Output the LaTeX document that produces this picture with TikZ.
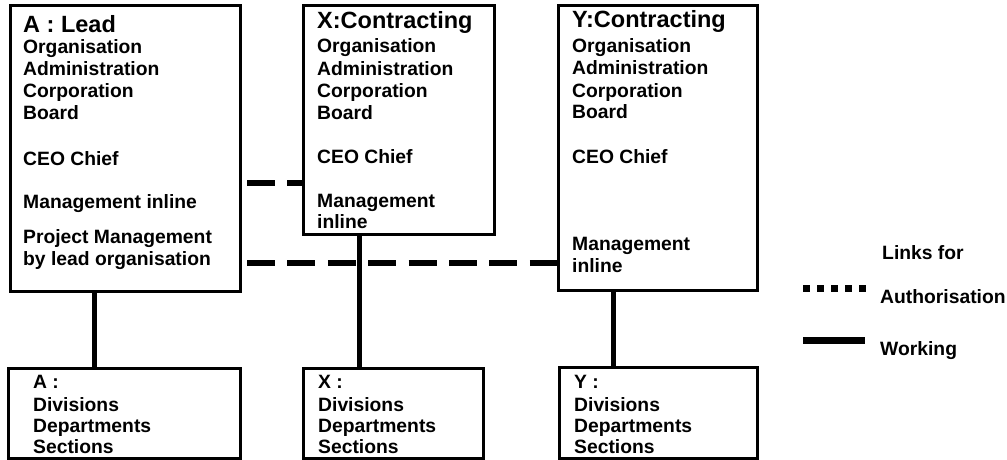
\documentclass[tikz,border=0pt]{standalone}
\usepackage{fontspec}
\setmainfont{Liberation Sans}
\begin{document}
\begin{tikzpicture}[x=1pt,y=-1pt,
  box/.style={draw, line width=3pt, outer sep=0pt, inner sep=0pt, anchor=north west},
  txt/.style={anchor=base west, inner sep=0pt, font=\fontsize{19.3}{22}\selectfont\bfseries},
  ttl/.style={anchor=base west, inner sep=0pt, font=\fontsize{23.5}{26}\selectfont\bfseries},
  work/.style={line width=5pt},
  auth/.style={line width=6pt, dash pattern=on 28pt off 12.4pt, dash phase=33.4pt},
  legauth/.style={line width=7pt, dash pattern=on 7pt off 7pt},
  legwork/.style={line width=7pt}]
\useasboundingbox (0,0) rectangle (1007,459);
% main boxes
\node[box, minimum width=230pt, minimum height=286pt] (A) at (10,5) {};
\node[box, minimum width=191pt, minimum height=229pt] (X) at (303,5) {};
\node[box, minimum width=199pt, minimum height=285pt] (Y) at (558,5) {};
% sub boxes
\node[box, minimum width=232pt, minimum height=90pt] (As) at (8,368) {};
\node[box, minimum width=180pt, minimum height=90pt] (Xs) at (303,368) {};
\node[box, minimum width=198pt, minimum height=91pt] (Ys) at (559,367) {};
% texts of A
\node[ttl] (at) at (23,32) {A : Lead};
\foreach \t/\y [count=\i] in {Organisation/53, Administration/75, Corporation/97, Board/119, CEO Chief/165, Management inline/208, Project Management/243, by lead organisation/265}
  \node[txt] (a\i) at (23,\y) {\t};
% texts of X
\node[ttl] (xt) at (317,28) {X:Contracting};
\foreach \t/\y [count=\i] in {Organisation/52, Administration/75, Corporation/97, Board/119, CEO Chief/163, Management/207, inline/228}
  \node[txt] (x\i) at (317,\y) {\t};
% texts of Y
\node[ttl] (yt) at (572,27) {Y:Contracting};
\foreach \t/\y [count=\i] in {Organisation/52, Administration/74, Corporation/97, Board/118, CEO Chief/163, Management/250, inline/272}
  \node[txt] (y\i) at (572,\y) {\t};
% sub box texts
\foreach \n/\x/\l in {as/33/A, xs/318/X, ys/574/Y}{
  \node[txt] (\n1) at (\x,388) {\l\ :};
  \node[txt] (\n2) at (\x,411) {Divisions};
  \node[txt] (\n3) at (\x,432) {Departments};
  \node[txt] (\n4) at (\x,453) {Sections};
}
% working links
\draw[work] (94,0 |- A.south) -- (94,0 |- As.north);
\draw[work] (359,0 |- X.south) -- (359,0 |- Xs.north);
\draw[work] (613,0 |- Y.south) -- (613,0 |- Ys.north);
% authorisation links
\draw[auth] (A.east |- 0,183) -- (X.west |- 0,183);
\draw[auth] (A.east |- 0,263) -- (Y.west |- 0,263);
% legend
\node[txt] (lf) at (882,259) {Links for};
\node[txt] (la) at (880,303) {Authorisation};
\node[txt] (lw) at (880,355) {Working};
\coordinate (la0) at (803,288);
\coordinate (la1) at (866,288);
\coordinate (lw0) at (803,340);
\coordinate (lw1) at (865,340);
\draw[legauth] (la0) -- (la1);
\draw[legwork] (lw0) -- (lw1);
\end{tikzpicture}
\end{document}
